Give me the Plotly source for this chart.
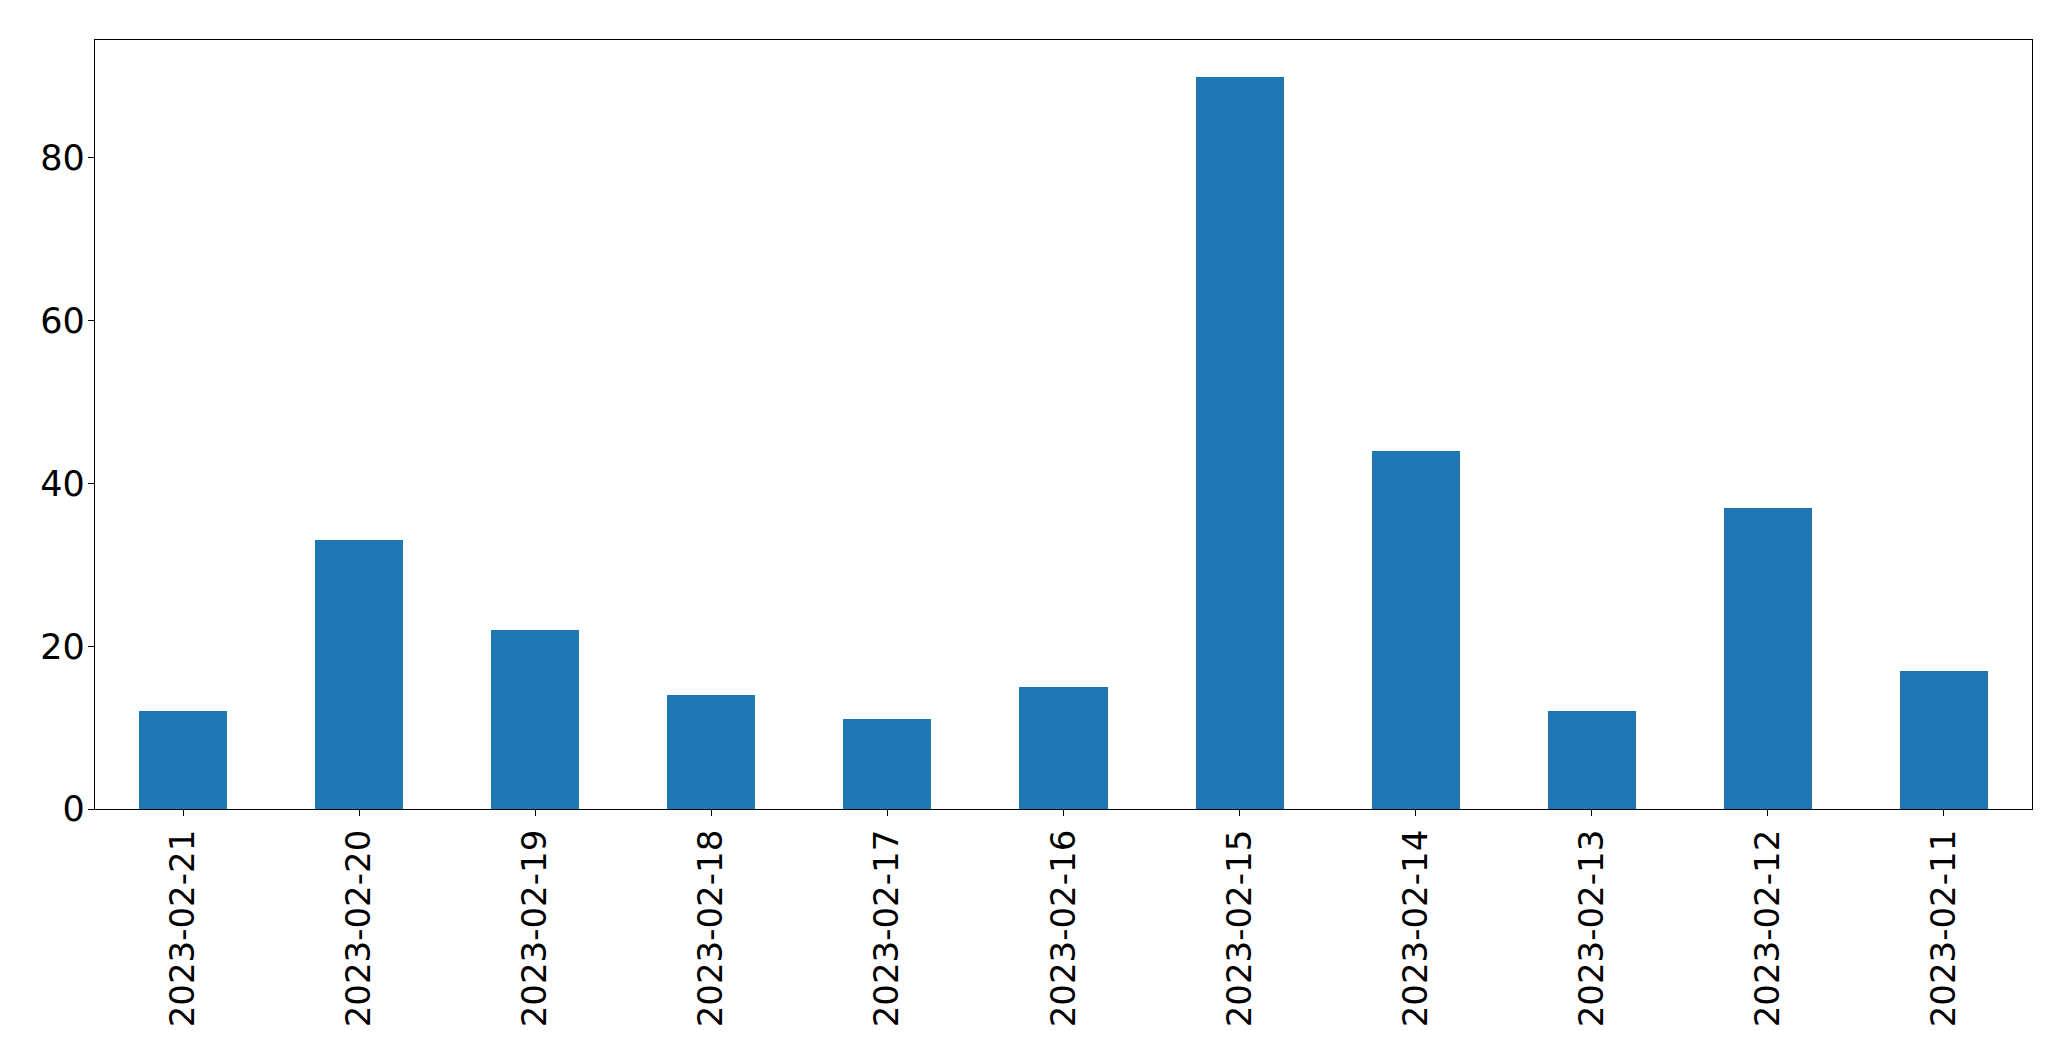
import plotly.graph_objects as go

dates = ["2023-02-21", "2023-02-20", "2023-02-19", "2023-02-18", "2023-02-17", "2023-02-16",
         "2023-02-15", "2023-02-14", "2023-02-13", "2023-02-12", "2023-02-11"]
counts = [12, 33, 22, 14, 11, 15, 90, 44, 12, 37, 17]
y_ticks = [0, 20, 40, 60, 80]

fig = go.Figure(go.Bar(x=list(range(len(dates))), y=counts, width=0.5,
                       marker=dict(color="#1f77b4", line=dict(width=0))))

fig.update_layout(
    width=2071, height=1061,
    margin=dict(l=95, r=39, t=40, b=252, pad=0),
    paper_bgcolor="white", plot_bgcolor="white",
    font=dict(family="DejaVu Sans", size=34, color="black"),
    showlegend=False,
    bargap=0,
)
fig.update_xaxes(
    range=[-0.5, len(dates) - 0.5],
    tickmode="array", tickvals=list(range(len(dates))), ticktext=dates,
    tickangle=-90,
    showline=True, linecolor="black", linewidth=1.3, mirror=True,
    ticks="outside", ticklen=6, tickwidth=1.3, tickcolor="black",
    showgrid=False, zeroline=False,
    tickfont=dict(size=34),
)
fig.update_yaxes(
    range=[0, 94.5],
    tickmode="array", tickvals=y_ticks,
    showline=True, linecolor="black", linewidth=1.3, mirror=True,
    ticks="outside", ticklen=6, tickwidth=1.3, tickcolor="black",
    showgrid=False, zeroline=False,
    tickfont=dict(size=35),
    ticklabelstandoff=-4,
)

fig.write_html("out.html")
